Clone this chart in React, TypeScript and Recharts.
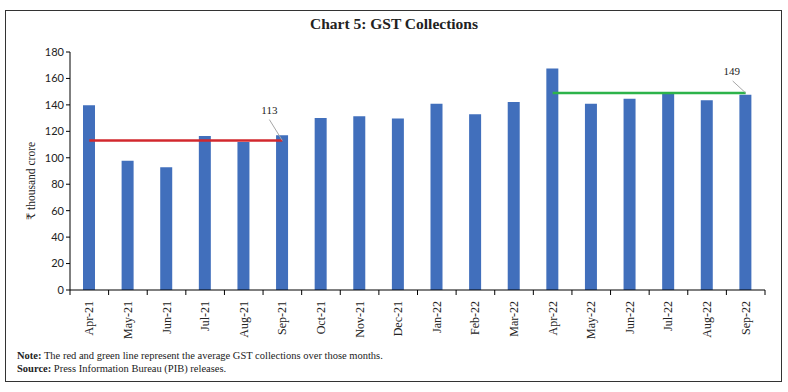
import React from 'react';
import { ComposedChart, Bar, Line, XAxis, YAxis } from 'recharts';

const months = [
  'Apr-21', 'May-21', 'Jun-21', 'Jul-21', 'Aug-21', 'Sep-21',
  'Oct-21', 'Nov-21', 'Dec-21', 'Jan-22', 'Feb-22', 'Mar-22',
  'Apr-22', 'May-22', 'Jun-22', 'Jul-22', 'Aug-22', 'Sep-22',
];
const gstCollections = [
  139.7, 97.8, 92.8, 116.4, 112.0, 117.0,
  130.1, 131.5, 129.8, 140.9, 133.0, 142.1,
  167.5, 140.9, 144.6, 149.0, 143.6, 147.7,
];
// averages over Apr-Sep of each year
const avgFirstHalf21 = [113, 113, 113, 113, 113, 113, null, null, null, null, null, null, null, null, null, null, null, null];
const avgFirstHalf22 = [null, null, null, null, null, null, null, null, null, null, null, null, 149, 149, 149, 149, 149, 149];
const yTicks = [0, 20, 40, 60, 80, 100, 120, 140, 160, 180];

const data = months.map((m, i) => ({
  month: m,
  gst: gstCollections[i],
  avg1: avgFirstHalf21[i],
  avg2: avgFirstHalf22[i],
}));

const CHART_W = 788;
const MARGIN = { top: 52, right: 23, bottom: 10, left: 20 };
const Y_W = 50;
const STEP = (CHART_W - MARGIN.left - MARGIN.right - Y_W) / months.length;

const serif = '"Liberation Serif", "DejaVu Serif", serif';

const MonthTick = (props: any) => {
  const { x, y, payload, index } = props;
  return (
    <g>
      <line x1={x - STEP / 2} y1={y - 8} x2={x - STEP / 2} y2={y - 3} stroke="#000" />
      {index === months.length - 1 && (
        <line x1={x + STEP / 2} y1={y - 8} x2={x + STEP / 2} y2={y - 3} stroke="#000" />
      )}
      <text
        transform={`translate(${x + 4},${y + 3}) rotate(-90)`}
        textAnchor="end"
        fontSize={12}
        fontFamily={serif}
        fill="#222"
      >
        {payload.value}
      </text>
    </g>
  );
};

const avgLabel = (lastIndex: number, dx: number, dy: number) => (props: any) => {
  const { x, y, value, index } = props;
  if (index !== lastIndex) return null;
  return (
    <g>
      <line x1={x - 13} y1={y - dy + 6} x2={x} y2={y} stroke="#A6A6A6" strokeWidth={1} />
      <text x={x - dx} y={y - dy} textAnchor="middle" fontSize={11} fontFamily={serif} fill="#222">
        {value}
      </text>
    </g>
  );
};

const App: React.FC = () => {
  return (
    <div style={{ position: 'absolute', left: 0, top: 0, width: 788, height: 392, background: '#fff', fontFamily: serif }}>
      <div style={{ position: 'absolute', left: 5, top: 10, width: 775, height: 370, border: '1.5px solid #333' }} />
      <div style={{ position: 'absolute', left: 0, top: 15, width: 788, textAlign: 'center', fontSize: 15.5, fontWeight: 'bold', color: '#222' }}>
        Chart 5: GST Collections
      </div>
      <div style={{ position: 'absolute', left: 0, top: 0 }}>
        <ComposedChart width={CHART_W} height={350} data={data} margin={MARGIN} barSize={12}>
          <XAxis
            dataKey="month"
            interval={0}
            height={50}
            tickLine={false}
            axisLine={{ stroke: '#000' }}
            tick={<MonthTick />}
          />
          <YAxis
            domain={[0, 180]}
            ticks={yTicks}
            width={Y_W}
            tickSize={4}
            axisLine={{ stroke: '#000' }}
            tickLine={{ stroke: '#000' }}
            tick={{ fill: '#222', fontSize: 11, fontFamily: 'Lato, sans-serif' }}
            label={{
              content: () => (
                <text
                  transform="translate(35,181) rotate(-90)"
                  textAnchor="middle"
                  fontSize={11.5}
                  fontFamily={serif}
                  fill="#222"
                >
                  ₹ thousand crore
                </text>
              ),
            }}
          />
          <Bar dataKey="gst" fill="#416FBC" isAnimationActive={false} />
          <Line
            dataKey="avg1"
            stroke="#D2282E"
            strokeWidth={2.5}
            dot={false}
            isAnimationActive={false}
            label={avgLabel(5, 13, 27)}
          />
          <Line
            dataKey="avg2"
            stroke="#2DB34A"
            strokeWidth={2.5}
            dot={false}
            isAnimationActive={false}
            label={avgLabel(17, 14, 18)}
          />
        </ComposedChart>
      </div>
      <div style={{ position: 'absolute', left: 17, top: 349, fontSize: 10.5, color: '#222', lineHeight: '13px' }}>
        <div><b>Note:</b> The red and green line represent the average GST collections over those months.</div>
        <div><b>Source:</b> Press Information Bureau (PIB) releases.</div>
      </div>
    </div>
  );
};

export default App;
